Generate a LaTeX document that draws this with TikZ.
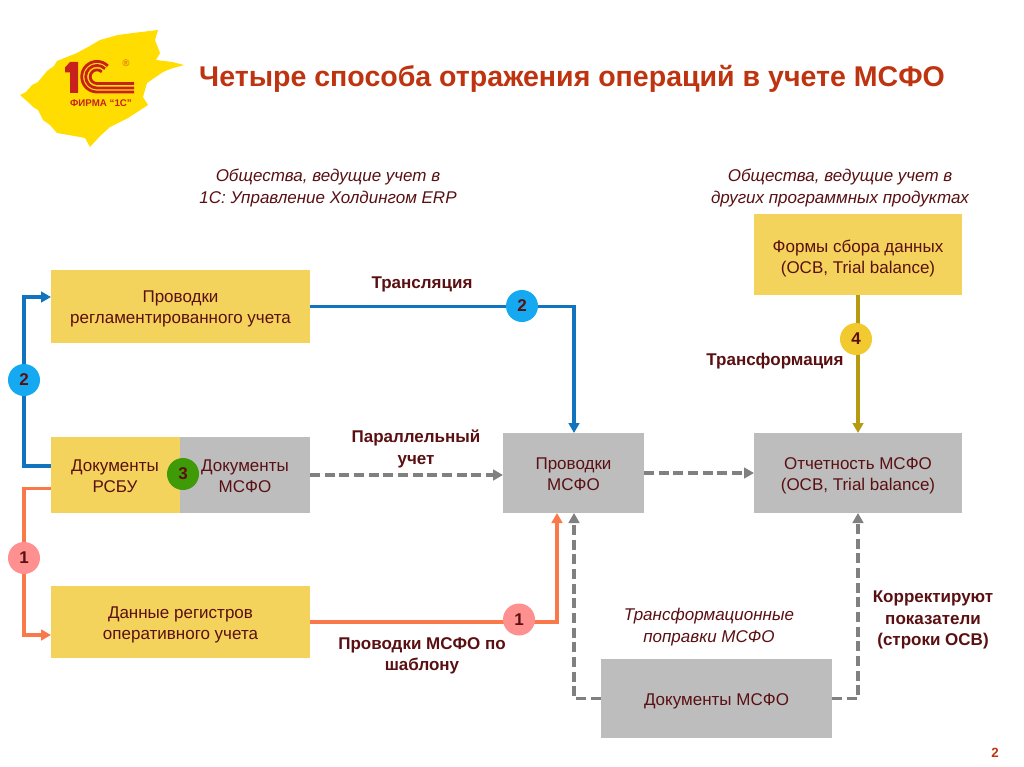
\documentclass[tikz,border=0pt]{standalone}
\usepackage{fontspec}
\setmainfont{Liberation Sans}
\usetikzlibrary{arrows.meta}
\definecolor{ybox}{HTML}{F4D35C}
\definecolor{gbox}{HTML}{BDBDBD}
\definecolor{txt}{HTML}{5A1012}
\definecolor{ttl}{HTML}{BF3410}
\definecolor{bl}{HTML}{1273BE}
\definecolor{cy}{HTML}{14A9F0}
\definecolor{org}{HTML}{F9794A}
\definecolor{pk}{HTML}{FF9090}
\definecolor{gr}{HTML}{808080}
\definecolor{gld}{HTML}{B59A12}
\definecolor{gc}{HTML}{F2C92E}
\definecolor{grn}{HTML}{3E9A06}
\definecolor{logoy}{HTML}{FFDD00}
\definecolor{logor}{HTML}{C8201C}
\newcommand\bxt[1]{\raisebox{0pt}[\dimexpr\height+4pt\relax][\depth]{\begin{tabular}{@{}c@{}}#1\end{tabular}}}
\tikzset{
 x=0.75pt,y=-0.75pt,
 boxs/.style={inner sep=0,outer sep=0,text=txt,font=\fontsize{12.75}{15.5}\selectfont},
 ybx/.style={boxs,fill=ybox},
 gbx/.style={boxs,fill=gbox},
 lbl/.style={align=center,text=txt,font=\bfseries\fontsize{12.75}{16.2}\selectfont,inner sep=0},
 ital/.style={align=center,text=txt,font=\itshape\fontsize{12.75}{16.5}\selectfont,inner sep=0},
 num/.style={circle,minimum size=24pt,inner sep=0,text=txt,font=\bfseries\fontsize{12.75}{14}\selectfont},
 conn/.style={line width=2.3pt,-{Triangle[length=7.5pt,width=8pt]}},
 dsh/.style={line width=2.4pt,gr,dash pattern=on 7.5pt off 3.5pt,-{Triangle[length=7.5pt,width=8pt]}},
 logo/.style={logor,line width=2.1pt}
}
\begin{document}
\begin{tikzpicture}
\useasboundingbox (0,0) rectangle (1024,767);
\fill[white] (0,0) rectangle (1024,767);
% logo
\fill[logoy] (20,95) -- (26,92) -- (32,85) -- (38,82) -- (47,71) -- (54,66) -- (57,61) -- (77,53) -- (88,47) -- (100,40) -- (118,35) -- (133,33) -- (158,30) -- (155,40) -- (160,53) -- (156,60) -- (172,62) -- (184,65) -- (170,69) -- (163,72) -- (147,83) -- (143,97) -- (148,105) -- (128,118) -- (110,127) -- (100,136) -- (90,147) -- (85,138) -- (80,137) -- (57,133) -- (50,125) -- (43,120) -- (38,110) -- (33,107) -- (28,102) -- cycle;
\fill[logor] (65,67.5) -- (70,62) -- (78,62) -- (78,93) -- (70,93) -- (70,72.5) -- (65,72.5) -- cycle;
\draw[logo] (134,92) -- (97,92) arc[start angle=90,end angle=315,radius=15.3];
\draw[logo] (134,88) -- (97,88) arc[start angle=90,end angle=315,radius=11.3];
\draw[logo] (134,83.5) -- (97,83.5) arc[start angle=90,end angle=315,radius=6.8];
\node[inner sep=0,text=logor!70!logoy,font=\fontsize{7}{8}\selectfont] (logoreg) at (126,63.5) {®};
\node[inner sep=0,text=logor,font=\bfseries\fontsize{7.3}{8}\selectfont] (logotext) at (101,103) {ФИРМА “1С”};
% title
\node[inner sep=0,text=ttl,font=\bfseries\fontsize{21.4}{24}\selectfont] (title) at (572,79) {Четыре способа отражения операций в учете МСФО};
% captions
\node[ital] (c1) at (328,188) {Общества, ведущие учет в\\1С: Управление Холдингом ERP};
\node[ital] (c2) at (840,188) {Общества, ведущие учет в\\других программных продуктах};
\node[ital] (c3) at (709,627) {Трансформационные\\поправки МСФО};
% boxes
\node[ybx,minimum width=194.25pt,minimum height=54.75pt] (a) at (180.5,306.5) {\bxt{Проводки\\регламентированного учета}};
\node[ybx,minimum width=96.75pt,minimum height=57pt,anchor=north west] (b) at (51,437) {};
\node[gbx,minimum width=97.5pt,minimum height=57pt,anchor=north west] (c) at (180,437) {};
\node[boxs] (bt) at (115,475) {\bxt{Документы\\РСБУ}};
\node[boxs] (ct) at (245,475) {\bxt{Документы\\МСФО}};
\node[ybx,minimum width=194.25pt,minimum height=54pt] (d) at (180.5,622) {\bxt{Данные регистров\\оперативного учета}};
\node[gbx,minimum width=105.75pt,minimum height=60pt] (e) at (573.5,473) {\bxt{Проводки\\МСФО}};
\node[gbx,minimum width=156pt,minimum height=60pt] (f) at (858,473) {\bxt{Отчетность МСФО\\(ОСВ, Trial balance)}};
\node[ybx,minimum width=156pt,minimum height=60.75pt] (g) at (858,254.5) {\raisebox{-1pt}[\dimexpr\height+1pt\relax][\depth]{\bxt{Формы сбора данных\\(ОСВ, Trial balance)}}};
\node[gbx,minimum width=173.25pt,minimum height=59.25pt] (h) at (716.5,698.5) {\bxt{Документы МСФО}};
% connectors
\coordinate (n2a) at (24,380);
\coordinate (n1a) at (24,558);
\draw[conn,bl] (b.west |- 0,466) -| (n2a) |- (a.west |- 0,297);
\draw[conn,bl] (a.east) -| (e.north -| 574,0);
\draw[conn,org] (b.west |- 0,488.5) -| (n1a) |- (d.west |- 0,635);
\draw[conn,org] (d.east) -| (e.south -| 557,0);
\draw[dsh] (c.east |- 0,475) -- (e.west |- 0,475);
\draw[dsh] (e.east) -- (f.west);
\draw[dsh] (h.west) -| (e.south -| 574,0);
\draw[dsh] (h.east) -| (f.south);
\draw[conn,gld] (g.south) -- (f.north);
% badges
\node[num,fill=cy] (b2a) at (n2a) {2};
\node[num,fill=pk] (b1a) at (n1a) {1};
\node[num,fill=cy] (b2b) at (522,306) {2};
\node[num,fill=pk] (b1b) at (519,619.5) {1};
\node[num,fill=gc] (b4) at (856,339) {4};
\node[num,fill=grn] (n3) at (183,474) {3};
% labels
\node[lbl] (l1) at (422,284) {Трансляция};
\node[lbl] (l2) at (416,449) {Параллельный\\учет};
\node[lbl] (l3) at (775,361) {Трансформация};
\node[lbl] (l4) at (422,656) {Проводки МСФО по\\шаблону};
\node[lbl] (l5) at (933,620) {Корректируют\\показатели\\(строки ОСВ)};
\node[inner sep=0,text=ttl,font=\bfseries\fontsize{10}{12}\selectfont] (pg) at (995,753) {2};
\end{tikzpicture}
\end{document}
